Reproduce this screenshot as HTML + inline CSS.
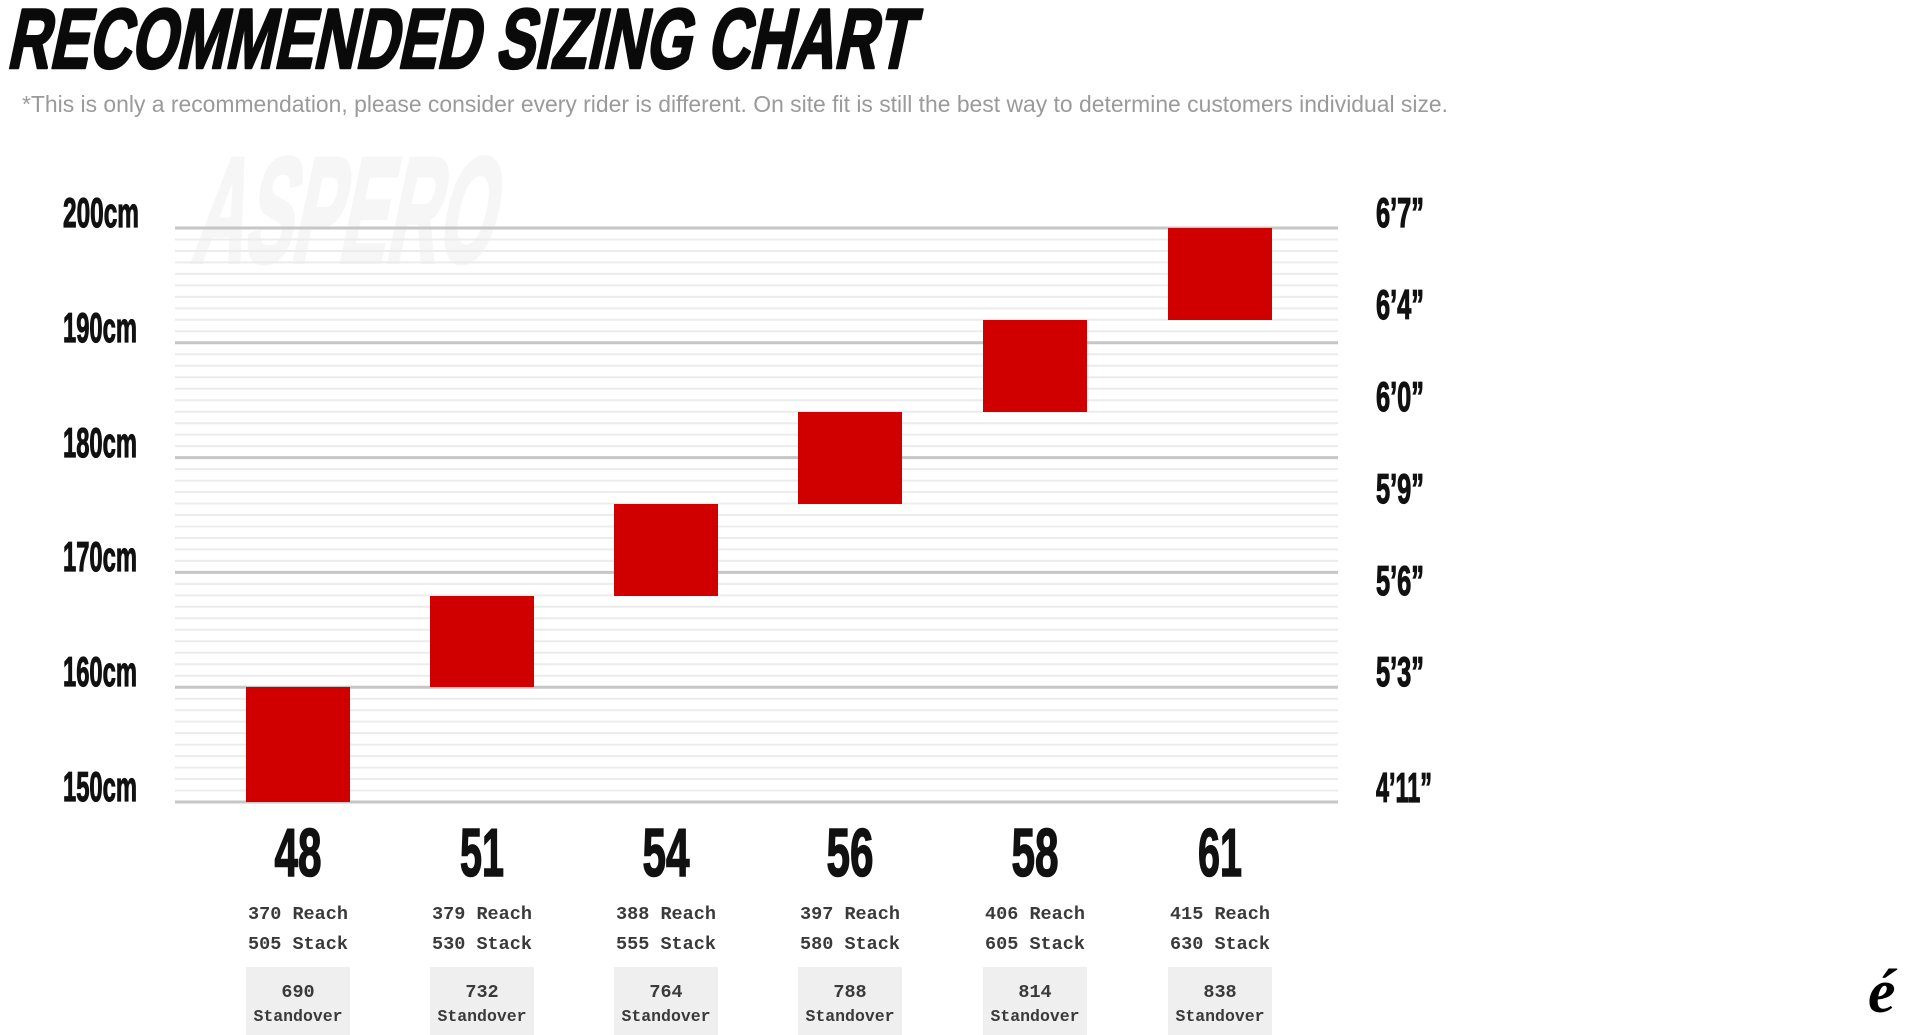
<!DOCTYPE html>
<html>
<head>
<meta charset="utf-8">
<style>
html,body{margin:0;padding:0;background:#fff;width:1920px;height:1035px;overflow:hidden;}
svg{display:block;}
.cond{font-family:"Liberation Sans Narrow","Liberation Sans",sans-serif;font-weight:bold;fill:#111;stroke:#111;}
.mono{font-family:"Liberation Mono",monospace;font-weight:bold;fill:#3a3a3a;}
</style>
</head>
<body>
<svg width="1920" height="1035" viewBox="0 0 1920 1035" xmlns="http://www.w3.org/2000/svg">
<rect width="1920" height="1035" fill="#fff"/>
<!-- Title -->
<g transform="translate(14.5,0) skewX(-12)">
<text x="6" y="68" font-family="Liberation Sans Narrow, Liberation Sans, sans-serif" font-weight="bold" font-size="85" fill="#0a0a0a" stroke="#0a0a0a" stroke-width="2.6" stroke-linejoin="round" textLength="905" lengthAdjust="spacingAndGlyphs">RECOMMENDED SIZING CHART</text>
</g>
<text x="22" y="112" font-family="Liberation Sans, sans-serif" font-size="23" fill="#9a9a9a" textLength="1426" lengthAdjust="spacingAndGlyphs">*This is only a recommendation, please consider every rider is different. On site fit is still the best way to determine customers individual size.</text>
<!-- Watermark -->
<g transform="translate(55.7,0) skewX(-12)">
<text x="190" y="262" font-family="Liberation Sans Narrow, Liberation Sans, sans-serif" font-weight="bold" font-size="150" fill="#f6f6f6" stroke="#f6f6f6" stroke-width="4" textLength="300" lengthAdjust="spacingAndGlyphs">ASPERO</text>
</g>
<!-- Grid -->
<g stroke="#ececec" stroke-width="2">
<line x1="175" x2="1338" y1="239.5" y2="239.5"/><line x1="175" x2="1338" y1="251" y2="251"/><line x1="175" x2="1338" y1="262.4" y2="262.4"/><line x1="175" x2="1338" y1="273.9" y2="273.9"/><line x1="175" x2="1338" y1="285.4" y2="285.4"/><line x1="175" x2="1338" y1="296.9" y2="296.9"/><line x1="175" x2="1338" y1="308.4" y2="308.4"/><line x1="175" x2="1338" y1="319.8" y2="319.8"/><line x1="175" x2="1338" y1="331.3" y2="331.3"/>
<line x1="175" x2="1338" y1="354.3" y2="354.3"/><line x1="175" x2="1338" y1="365.8" y2="365.8"/><line x1="175" x2="1338" y1="377.2" y2="377.2"/><line x1="175" x2="1338" y1="388.7" y2="388.7"/><line x1="175" x2="1338" y1="400.2" y2="400.2"/><line x1="175" x2="1338" y1="411.7" y2="411.7"/><line x1="175" x2="1338" y1="423.2" y2="423.2"/><line x1="175" x2="1338" y1="434.6" y2="434.6"/><line x1="175" x2="1338" y1="446.1" y2="446.1"/>
<line x1="175" x2="1338" y1="469.1" y2="469.1"/><line x1="175" x2="1338" y1="480.6" y2="480.6"/><line x1="175" x2="1338" y1="492" y2="492"/><line x1="175" x2="1338" y1="503.5" y2="503.5"/><line x1="175" x2="1338" y1="515" y2="515"/><line x1="175" x2="1338" y1="526.5" y2="526.5"/><line x1="175" x2="1338" y1="538" y2="538"/><line x1="175" x2="1338" y1="549.4" y2="549.4"/><line x1="175" x2="1338" y1="560.9" y2="560.9"/>
<line x1="175" x2="1338" y1="583.9" y2="583.9"/><line x1="175" x2="1338" y1="595.4" y2="595.4"/><line x1="175" x2="1338" y1="606.8" y2="606.8"/><line x1="175" x2="1338" y1="618.3" y2="618.3"/><line x1="175" x2="1338" y1="629.8" y2="629.8"/><line x1="175" x2="1338" y1="641.3" y2="641.3"/><line x1="175" x2="1338" y1="652.8" y2="652.8"/><line x1="175" x2="1338" y1="664.2" y2="664.2"/><line x1="175" x2="1338" y1="675.7" y2="675.7"/>
<line x1="175" x2="1338" y1="698.7" y2="698.7"/><line x1="175" x2="1338" y1="710.2" y2="710.2"/><line x1="175" x2="1338" y1="721.6" y2="721.6"/><line x1="175" x2="1338" y1="733.1" y2="733.1"/><line x1="175" x2="1338" y1="744.6" y2="744.6"/><line x1="175" x2="1338" y1="756.1" y2="756.1"/><line x1="175" x2="1338" y1="767.6" y2="767.6"/><line x1="175" x2="1338" y1="779" y2="779"/><line x1="175" x2="1338" y1="790.5" y2="790.5"/>
</g>
<g stroke="#c6c6c6" stroke-width="3">
<line x1="175" x2="1338" y1="228" y2="228"/>
<line x1="175" x2="1338" y1="342.8" y2="342.8"/>
<line x1="175" x2="1338" y1="457.6" y2="457.6"/>
<line x1="175" x2="1338" y1="572.4" y2="572.4"/>
<line x1="175" x2="1338" y1="687.2" y2="687.2"/>
<line x1="175" x2="1338" y1="802" y2="802"/>
</g>
<!-- Bars -->
<g fill="#d10000">
<rect x="246" y="687" width="104" height="115"/>
<rect x="430" y="596" width="104" height="91"/>
<rect x="614" y="504" width="104" height="92"/>
<rect x="798" y="412" width="104" height="92"/>
<rect x="983" y="320" width="104" height="92"/>
<rect x="1168" y="228" width="104" height="92"/>
</g>
<!-- Left labels -->
<g class="cond" font-size="42" stroke-width="1.2">
<text x="63" y="227" textLength="76" lengthAdjust="spacingAndGlyphs">200cm</text>
<text x="63" y="342" textLength="74" lengthAdjust="spacingAndGlyphs">190cm</text>
<text x="63" y="457" textLength="74" lengthAdjust="spacingAndGlyphs">180cm</text>
<text x="63" y="571" textLength="74" lengthAdjust="spacingAndGlyphs">170cm</text>
<text x="63" y="686" textLength="74" lengthAdjust="spacingAndGlyphs">160cm</text>
<text x="63" y="801" textLength="74" lengthAdjust="spacingAndGlyphs">150cm</text>
</g>
<!-- Right labels -->
<g class="cond" font-size="42" stroke-width="1.2">
<text x="1376" y="227" textLength="48" lengthAdjust="spacingAndGlyphs">6’7”</text>
<text x="1376" y="319" textLength="48" lengthAdjust="spacingAndGlyphs">6’4”</text>
<text x="1376" y="411" textLength="48" lengthAdjust="spacingAndGlyphs">6’0”</text>
<text x="1376" y="503" textLength="48" lengthAdjust="spacingAndGlyphs">5’9”</text>
<text x="1376" y="595" textLength="48" lengthAdjust="spacingAndGlyphs">5’6”</text>
<text x="1376" y="686" textLength="48" lengthAdjust="spacingAndGlyphs">5’3”</text>
<text x="1376" y="802" textLength="56" lengthAdjust="spacingAndGlyphs">4’11”</text>
</g>
<!-- Standover boxes -->
<g fill="#efefef">
<rect x="246" y="967" width="104" height="68"/>
<rect x="430" y="967" width="104" height="68"/>
<rect x="614" y="967" width="104" height="68"/>
<rect x="798" y="967" width="104" height="68"/>
<rect x="983" y="967" width="104" height="68"/>
<rect x="1168" y="967" width="104" height="68"/>
</g>
<!-- Size numbers -->
<g class="cond" font-size="68" text-anchor="middle" stroke-width="1.6">
<text x="298" y="876" textLength="47" lengthAdjust="spacingAndGlyphs">48</text>
<text x="482" y="876" textLength="44" lengthAdjust="spacingAndGlyphs">51</text>
<text x="666" y="876" textLength="47" lengthAdjust="spacingAndGlyphs">54</text>
<text x="850" y="876" textLength="47" lengthAdjust="spacingAndGlyphs">56</text>
<text x="1035" y="876" textLength="47" lengthAdjust="spacingAndGlyphs">58</text>
<text x="1220" y="876" textLength="44" lengthAdjust="spacingAndGlyphs">61</text>
</g>
<!-- Reach / Stack -->
<g class="mono" font-size="18.5" text-anchor="middle">
<text x="298" y="919">370 Reach</text><text x="298" y="949">505 Stack</text>
<text x="482" y="919">379 Reach</text><text x="482" y="949">530 Stack</text>
<text x="666" y="919">388 Reach</text><text x="666" y="949">555 Stack</text>
<text x="850" y="919">397 Reach</text><text x="850" y="949">580 Stack</text>
<text x="1035" y="919">406 Reach</text><text x="1035" y="949">605 Stack</text>
<text x="1220" y="919">415 Reach</text><text x="1220" y="949">630 Stack</text>
</g>
<!-- Standover text -->
<g class="mono" font-size="18.5" text-anchor="middle">
<text x="298" y="997">690</text>
<text x="482" y="997">732</text>
<text x="666" y="997">764</text>
<text x="850" y="997">788</text>
<text x="1035" y="997">814</text>
<text x="1220" y="997">838</text>
</g>
<g class="mono" font-size="16.5" text-anchor="middle">
<text x="298" y="1021">Standover</text>
<text x="482" y="1021">Standover</text>
<text x="666" y="1021">Standover</text>
<text x="850" y="1021">Standover</text>
<text x="1035" y="1021">Standover</text>
<text x="1220" y="1021">Standover</text>
</g>
<!-- Logo -->
<text x="1868" y="1012" font-family="Liberation Serif, serif" font-weight="bold" font-style="italic" font-size="62" fill="#000">é</text>
</svg>
</body>
</html>
